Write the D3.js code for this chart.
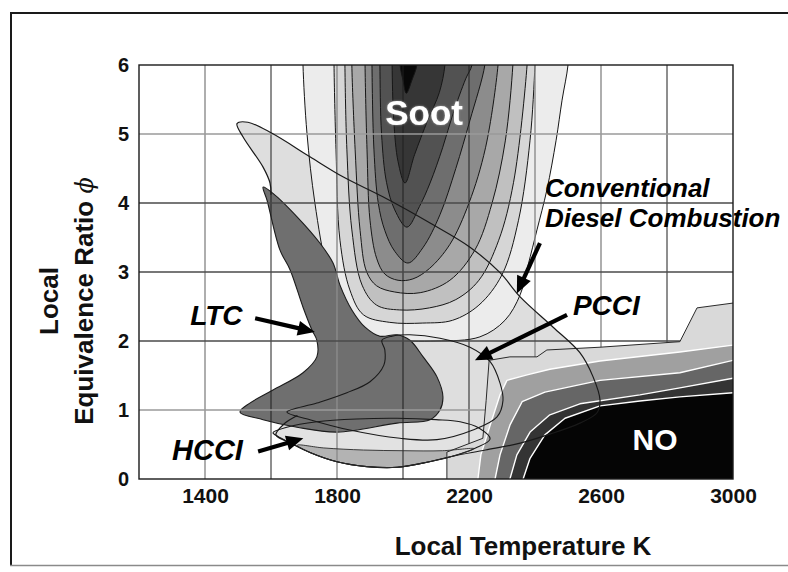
<!DOCTYPE html>
<html>
<head>
<meta charset="utf-8">
<script src="https://cdn.jsdelivr.net/npm/d3@7"></script>
<style>
  html, body { margin: 0; padding: 0; background: #fff; }
  svg { display: block; }
  text { font-family: "Liberation Sans", Arial, Helvetica, sans-serif; }
</style>
</head>
<body>
<svg id="chart" width="788" height="572"></svg>
<script>
// ---------- axis values ----------
const xTicks = [1400, 1800, 2200, 2600, 3000];
const yTicks = [0, 1, 2, 3, 4, 5, 6];
const gridT = [1400, 1600, 1800, 2000, 2200, 2400, 2600, 2800];
const gridPhi = [1, 2, 3, 4, 5];
const darkGridT = [1600, 2000, 2200, 2800];
const darkGridPhi = [2, 3, 4];

// ---------- soot contours [T (K), phi], outermost first (open at the top) ----------
const soot1 = [[1697,6.3],[1697,6.0],[1709,5.01],[1733,4.0],[1770,3.03],[1809,2.52],[1870,2.19],[1960,2.03],[2100,2.0],[2233,2.06],[2309,2.3],[2355,2.67],[2379,3.10],[2406,3.61],[2436,4.19],[2464,4.91],[2482,5.49],[2500,6.0],[2502,6.3]];
const soot2 = [[1791,6.3],[1791,6.0],[1797,4.77],[1809,3.46],[1839,2.74],[1880,2.38],[1960,2.27],[2060,2.26],[2150,2.30],[2230,2.52],[2300,2.96],[2350,3.75],[2385,4.91],[2400,6.0],[2402,6.3]];
const soot3 = [[1824,6.3],[1824,6.0],[1830,4.77],[1845,3.61],[1876,2.81],[1920,2.52],[1990,2.45],[2080,2.48],[2160,2.6],[2230,2.88],[2290,3.46],[2335,4.3],[2376,6.0],[2378,6.3]];
const soot4 = [[1845,6.3],[1845,6.0],[1855,4.77],[1870,3.6],[1890,3.0],[1920,2.8],[1975,2.71],[2052,2.70],[2142,2.88],[2218,3.32],[2270,4.0],[2310,4.9],[2333,6.0],[2335,6.3]];
const soot5 = [[1885,6.3],[1885,6.0],[1891,4.77],[1900,3.75],[1920,3.2],[1945,2.97],[1985,2.88],[2030,2.90],[2080,3.05],[2142,3.4],[2200,4.0],[2250,4.8],[2288,6.0],[2290,6.3]];
const soot6 = [[1906,6.3],[1906,6.0],[1912,4.77],[1925,4.0],[1945,3.6],[1975,3.3],[2015,3.13],[2060,3.35],[2112,3.83],[2160,4.5],[2203,5.2],[2248,6.0],[2250,6.3]];
const soot7 = [[1930,6.3],[1930,6.0],[1935,5.0],[1950,4.3],[1975,3.9],[2012,3.65],[2050,3.95],[2082,4.29],[2120,4.8],[2152,5.3],[2190,5.8],[2209,6.0],[2210,6.3]];
const soot8 = [[1967,6.3],[1967,6.0],[1972,5.2],[1985,4.6],[2006,4.29],[2035,4.7],[2075,5.2],[2110,5.6],[2127,6.0],[2127,6.3]];
const soot9 = [[1991,6.3],[1991,6.0],[2000,5.78],[2010,5.59],[2027,5.78],[2042,6.0],[2042,6.3]];

// ---------- NO contours (closed, running off the right and bottom edges) ----------
const no1 = [[2133,-0.5],[2133,0.39],[2242,0.59],[2252,1.14],[2261,1.72],[2324,1.77],[2406,1.77],[2436,1.87],[2597,1.91],[2839,1.99],[2891,2.48],[3000,2.55],[3100,2.55],[3100,-0.5]];
const no2 = [[2227,-0.5],[2227,0],[2236,0.35],[2264,0.78],[2294,1.22],[2315,1.43],[2376,1.51],[2445,1.59],[2597,1.71],[2839,1.84],[3000,1.94],[3100,1.94],[3100,-0.5]];
const no3 = [[2279,-0.5],[2279,0],[2294,0.35],[2324,0.78],[2361,1.12],[2430,1.26],[2597,1.43],[2839,1.54],[3000,1.72],[3100,1.72],[3100,-0.5]];
const no4 = [[2324,-0.5],[2324,0],[2345,0.35],[2385,0.68],[2445,0.93],[2536,1.09],[2718,1.22],[2839,1.32],[3000,1.46],[3100,1.46],[3100,-0.5]];
const no5 = [[2364,-0.5],[2364,0],[2385,0.30],[2430,0.64],[2491,0.88],[2597,1.06],[2718,1.13],[2839,1.19],[3000,1.25],[3100,1.25],[3100,-0.5]];

// ---------- combustion regimes ----------
// conventional diesel: visible edge, then the return path that runs under the LTC patch
const cdcEdge = [[1600,4.12],[1597,4.29],[1576,4.52],[1515,4.96],[1497,5.15],[1530,5.17],[1603,5.01],[1718,4.67],[1818,4.38],[1939,4.09],[2082,3.71],[2203,3.36],[2294,2.99],[2355,2.64],[2455,2.2],[2536,1.83],[2576,1.48],[2597,1.14],[2588,0.96],[2536,0.81],[2445,0.65],[2355,0.52],[2250,0.42],[2150,0.33],[2060,0.23],[1982,0.17],[1890,0.18],[1800,0.25],[1720,0.38],[1660,0.52],[1615,0.64],[1640,0.80],[1680,0.92]];
const cdcHidden = [[1760,1.2],[1800,1.65],[1800,2.1],[1760,2.5],[1715,3.0],[1660,3.6]];
const ltcRegion = [[1576,4.23],[1606,4.14],[1679,3.80],[1748,3.42],[1788,3.13],[1809,2.81],[1845,2.45],[1885,2.20],[1930,2.07],[1982,2.09],[2021,2.01],[2061,1.77],[2103,1.48],[2121,1.19],[2112,1.00],[2082,0.86],[1982,0.81],[1800,0.68],[1679,0.75],[1576,0.86],[1506,0.97],[1536,1.10],[1606,1.29],[1697,1.54],[1739,1.77],[1739,2.01],[1724,2.16],[1697,2.49],[1658,3.03],[1627,3.32],[1588,4.04]];
const pcciRegion = [[1648,0.97],[1739,1.10],[1830,1.25],[1900,1.41],[1942,1.65],[1945,1.87],[1936,2.01],[1967,2.07],[2021,2.09],[2112,2.04],[2203,1.91],[2264,1.70],[2294,1.39],[2303,1.14],[2285,0.90],[2212,0.71],[2103,0.57],[1991,0.59],[1839,0.71],[1718,0.86]];
const hcciRegion = [[1606,0.67],[1648,0.75],[1739,0.83],[1860,0.87],[1982,0.88],[2100,0.86],[2173,0.83],[2230,0.74],[2264,0.58],[2220,0.45],[2150,0.33],[2060,0.23],[1982,0.17],[1890,0.18],[1800,0.25],[1720,0.38],[1660,0.52],[1620,0.62]];
const hcciLower = [[1680,0.49],[1760,0.45],[1880,0.42],[2000,0.41],[2120,0.41],[2215,0.44],[2150,0.33],[2060,0.23],[1982,0.17],[1890,0.18],[1800,0.25],[1720,0.38]];

// ---------- scales ----------
const x = d3.scaleLinear().domain([1200, 3000]).range([139, 733]);
const y = d3.scaleLinear().domain([0, 6]).range([479, 65]);

const svg = d3.select('#chart');
const defs = svg.append('defs');
defs.append('clipPath').attr('id', 'plot-clip')
  .append('rect')
  .attr('x', x(1200)).attr('y', y(6))
  .attr('width', x(3000) - x(1200)).attr('height', y(0) - y(6));
const glow = defs.append('filter').attr('id', 'soft-halo')
  .attr('x', '-20%').attr('y', '-30%').attr('width', '140%').attr('height', '160%');
glow.append('feDropShadow').attr('dx', 0).attr('dy', 0)
  .attr('stdDeviation', 1.3).attr('flood-color', '#9a9a9a').attr('flood-opacity', 1);

const smoothOpen = d3.line().x(d => x(d[0])).y(d => y(d[1])).curve(d3.curveCatmullRom.alpha(0.5));
const smoothClosed = d3.line().x(d => x(d[0])).y(d => y(d[1])).curve(d3.curveCatmullRomClosed.alpha(0.5));
const polygon = d3.line().x(d => x(d[0])).y(d => y(d[1])).curve(d3.curveLinearClosed);

// ---------- outer figure frame ----------
svg.append('line').attr('x1', 10).attr('x2', 788).attr('y1', 13).attr('y2', 13)
  .attr('stroke', '#1a1a1a').attr('stroke-width', 2);
svg.append('line').attr('x1', 11).attr('x2', 11).attr('y1', 12).attr('y2', 566)
  .attr('stroke', '#1a1a1a').attr('stroke-width', 2);
svg.append('line').attr('x1', 10).attr('x2', 788).attr('y1', 565.5).attr('y2', 565.5)
  .attr('stroke', '#8a8a8a').attr('stroke-width', 1.5);

const plot = svg.append('g').attr('clip-path', 'url(#plot-clip)');

// CDC region fill (underneath everything else)
plot.append('path').attr('d', smoothClosed(cdcEdge.concat(cdcHidden))).attr('fill', '#dedede').attr('stroke', 'none');

// HCCI region
plot.append('path').attr('d', smoothClosed(hcciRegion)).attr('fill', '#e2e2e2').attr('stroke', 'none');
plot.append('path').attr('d', smoothClosed(hcciLower)).attr('fill', '#b3b3b3').attr('stroke', 'none');

// soot contour bands
const sootLevels = [soot1, soot2, soot3, soot4, soot5, soot6, soot7, soot8, soot9];
const sootFills = ['#ececec', '#d6d6d6', '#c0c0c0', '#a8a8a8', '#8c8c8c', '#6e6e6e', '#525252', '#363636', '#080808'];
sootLevels.forEach((lvl, i) => {
  plot.append('path').attr('d', smoothOpen(lvl))
    .attr('fill', sootFills[i]).attr('stroke', '#161616').attr('stroke-width', 1);
});

// LTC region
plot.append('path').attr('d', smoothClosed(ltcRegion))
  .attr('fill', '#6f6f6f').attr('stroke', '#1c1c1c').attr('stroke-width', 1.1);

// grid
plot.selectAll('line.vgrid').data(gridT).join('line').attr('class', 'vgrid')
  .attr('x1', d => x(d)).attr('x2', d => x(d)).attr('y1', y(6)).attr('y2', y(0))
  .attr('stroke', d => darkGridT.includes(d) ? '#1e1e1e' : '#8c8c8c')
  .attr('stroke-width', d => darkGridT.includes(d) ? 1 : 1.4);
plot.selectAll('line.hgrid').data(gridPhi).join('line').attr('class', 'hgrid')
  .attr('x1', x(1200)).attr('x2', x(3000)).attr('y1', d => y(d)).attr('y2', d => y(d))
  .attr('stroke', d => darkGridPhi.includes(d) ? '#4a4a4a' : '#9a9a9a')
  .attr('stroke-width', 1.3);

// NO contour bands, separated by white lines
const noLevels = [no1, no2, no3, no4, no5];
const noFills = ['#d9d9d9', '#a0a0a0', '#666666', '#343434', '#050505'];
noLevels.forEach((lvl, i) => {
  plot.append('path').attr('d', polygon(lvl))
    .attr('fill', noFills[i])
    .attr('stroke', i === 0 ? '#2a2a2a' : '#ffffff')
    .attr('stroke-width', i === 0 ? 1 : 1.4)
    .attr('stroke-linejoin', 'round');
});

// regime outlines on top
plot.append('path').attr('d', smoothOpen(cdcEdge)).attr('fill', 'none')
  .attr('stroke', '#1a1a1a').attr('stroke-width', 1.2);
plot.append('path').attr('d', smoothClosed(pcciRegion)).attr('fill', 'none')
  .attr('stroke', '#1a1a1a').attr('stroke-width', 1.1);
plot.append('path').attr('d', smoothClosed(hcciRegion)).attr('fill', 'none')
  .attr('stroke', '#1a1a1a').attr('stroke-width', 1.1);
plot.append('path').attr('d', smoothClosed(hcciLower)).attr('fill', 'none')
  .attr('stroke', '#2a2a2a').attr('stroke-width', 0.9);

// plot border
svg.append('rect').attr('x', x(1200)).attr('y', y(6))
  .attr('width', x(3000) - x(1200)).attr('height', y(0) - y(6))
  .attr('fill', 'none').attr('stroke', '#1a1a1a').attr('stroke-width', 1.4);

// ---------- axes ----------
const xAxis = svg.append('g').attr('transform', `translate(0,${y(0)})`)
  .call(d3.axisBottom(x).tickValues(xTicks).tickSize(0).tickPadding(9).tickFormat(d3.format('d')));
xAxis.select('.domain').remove();
xAxis.attr('font-size', null).attr('font-family', null);
xAxis.selectAll('text').attr('font-size', 21).attr('font-weight', 'bold').attr('fill', '#111');

const yAxis = svg.append('g').attr('transform', `translate(${x(1200)},0)`)
  .call(d3.axisLeft(y).tickValues(yTicks).tickSize(0).tickPadding(10).tickFormat(d3.format('d')));
yAxis.select('.domain').remove();
yAxis.attr('font-size', null).attr('font-family', null);
yAxis.selectAll('text').attr('font-size', 20).attr('font-weight', 'bold').attr('fill', '#111');

// axis titles
svg.append('text').attr('x', (x(1200) + x(3000)) / 2 + 87).attr('y', 555)
  .attr('text-anchor', 'middle').attr('font-size', 26).attr('font-weight', 'bold').attr('fill', '#111')
  .text('Local Temperature K');
svg.append('text').attr('transform', 'translate(58,301) rotate(-90)')
  .attr('text-anchor', 'middle').attr('font-size', 26).attr('font-weight', 'bold').attr('fill', '#111')
  .text('Local');
const yTitle = svg.append('text').attr('transform', 'translate(93,301) rotate(-90)')
  .attr('text-anchor', 'middle').attr('font-size', 26).attr('font-weight', 'bold').attr('fill', '#111');
yTitle.append('tspan').text('Equivalence Ratio ');
yTitle.append('tspan').attr('font-family', '"DejaVu Serif", serif').attr('font-style', 'italic')
  .attr('font-weight', 'normal').attr('font-size', 24).text('\u03D5');

// ---------- annotations ----------
function arrow(from, to) {
  const x0 = x(from[0]), y0 = y(from[1]), x1 = x(to[0]), y1 = y(to[1]);
  const dx = x1 - x0, dy = y1 - y0, len = Math.hypot(dx, dy);
  const ux = dx / len, uy = dy / len;
  const head = 17, half = 7.5;
  const bx = x1 - ux * head, by = y1 - uy * head;
  svg.append('line').attr('x1', x0).attr('y1', y0).attr('x2', bx + ux * 2).attr('y2', by + uy * 2)
    .attr('stroke', '#000').attr('stroke-width', 4.2);
  svg.append('path')
    .attr('d', `M${x1},${y1}L${bx - uy * half},${by + ux * half}L${bx + uy * half},${by - ux * half}Z`)
    .attr('fill', '#000');
}
arrow([1552, 2.33], [1733, 2.13]);   // LTC
arrow([1561, 0.40], [1698, 0.59]);   // HCCI
arrow([2497, 2.38], [2218, 1.72]);   // PCCI
arrow([2415, 3.42], [2345, 2.69]);   // conventional diesel

function label(txt, T, phi, opts) {
  return svg.append('text').attr('x', x(T)).attr('y', y(phi))
    .attr('text-anchor', opts.anchor || 'start')
    .attr('font-size', opts.size).attr('font-weight', 'bold')
    .attr('font-style', opts.italic ? 'italic' : 'normal')
    .attr('fill', opts.fill || '#000')
    .text(txt);
}
label('LTC', 1355, 2.23, { size: 28, italic: true });
label('HCCI', 1300, 0.275, { size: 29, italic: true });
label('PCCI', 2515, 2.38, { size: 28, italic: true });
label('Conventional', 2430, 4.087, { size: 26, italic: true });
label('Diesel Combustion', 2430, 3.652, { size: 26, italic: true });
label('Soot', 2064, 5.13, { size: 35, anchor: 'middle', fill: '#fff' }).attr('filter', 'url(#soft-halo)');
label('NO', 2764, 0.42, { size: 30, anchor: 'middle', fill: '#fff' });
</script>
</body>
</html>
